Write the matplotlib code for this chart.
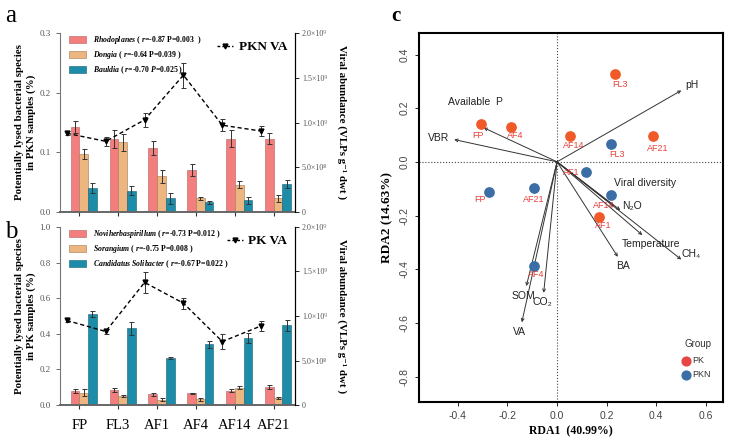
import numpy as np
import matplotlib
matplotlib.use('Agg')
import matplotlib.pyplot as plt
from matplotlib.lines import Line2D

plt.rcParams['font.family'] = ['Liberation Serif', 'DejaVu Serif']
plt.rcParams['mathtext.fontset'] = 'custom'
plt.rcParams['mathtext.rm'] = 'Liberation Serif:bold'
plt.rcParams['mathtext.it'] = 'Liberation Serif:italic:bold'

sites = ['FP', 'FL3', 'AF1', 'AF4', 'AF14', 'AF21']

# panel a (PKN)
rhodoplanes = [0.143, 0.123, 0.107, 0.070, 0.123, 0.123]
rhodoplanes_err = [0.010, 0.015, 0.012, 0.010, 0.014, 0.009]
dongia = [0.097, 0.117, 0.060, 0.023, 0.046, 0.023]
dongia_err = [0.008, 0.014, 0.011, 0.003, 0.006, 0.006]
bauldia = [0.040, 0.036, 0.023, 0.016, 0.020, 0.047]
bauldia_err = [0.008, 0.008, 0.009, 0.002, 0.006, 0.006]
pkn_va = [0.88e9, 0.79e9, 1.03e9, 1.53e9, 0.97e9, 0.905e9]
pkn_va_err = [0.02e9, 0.05e9, 0.08e9, 0.14e9, 0.07e9, 0.06e9]

# panel b (PK)
novi = [0.080, 0.083, 0.060, 0.065, 0.080, 0.100]
novi_err = [0.010, 0.012, 0.010, 0.005, 0.008, 0.010]
sorangium = [0.070, 0.053, 0.030, 0.033, 0.098, 0.040]
sorangium_err = [0.020, 0.006, 0.010, 0.008, 0.008, 0.007]
solibacter = [0.510, 0.430, 0.263, 0.340, 0.377, 0.447]
solibacter_err = [0.018, 0.035, 0.006, 0.018, 0.030, 0.030]
pk_va = [0.95e9, 0.826e9, 1.377e9, 1.144e9, 0.713e9, 0.889e9]
pk_va_err = [0.02e9, 0.03e9, 0.12e9, 0.06e9, 0.08e9, 0.06e9]

# panel c (RDA)
pk_x = [-0.307, 0.234, 0.171, -0.186, 0.053, 0.387]
pk_y = [0.140, 0.328, -0.205, 0.129, 0.098, 0.098]
pkn_x = [-0.276, 0.218, 0.115, -0.092, 0.218, -0.092]
pkn_y = [-0.112, 0.067, -0.037, -0.388, -0.122, -0.096]
env_names = ['pH', 'Available  P', 'VBR', 'Viral diversity', 'N₂O', 'Temperature',
             'CH₄', 'BA', 'SOM', 'CO₂', 'VA']
env_x = [0.501, -0.296, -0.415, 0.23, 0.255, 0.344, 0.501, 0.245, -0.124, -0.054, -0.142]
env_y = [0.266, 0.127, 0.083, -0.165, -0.180, -0.273, -0.364, -0.354, -0.463, -0.488, -0.598]

c_pink = '#F27E7E'
c_orange = '#EDB57F'
c_teal = '#1C8CA8'
c_pk = '#F05A28'
c_pkn = '#3A6EA5'
c_lab = '#E8413C'

fig = plt.figure(figsize=(7.35, 4.44), dpi=100)

x = np.arange(len(sites))
w = 0.223


def bar_panel(ax, s1, e1, s2, e2, s3, e3, va, va_err, labels, va_label, ymax, ylabel):
    ekw = dict(ecolor='#333333', elinewidth=0.7, capsize=1.8, capthick=0.7)
    ax.bar(x - 0.112, s1, w, yerr=e1, color=c_pink, edgecolor='#b06060', linewidth=0.4,
           error_kw=ekw, label=labels[0])
    ax.bar(x + 0.112, s2, w, yerr=e2, color=c_orange, edgecolor='#a07850', linewidth=0.4,
           error_kw=ekw, label=labels[1])
    ax.bar(x + 0.335, s3, w, yerr=e3, color=c_teal, edgecolor='#145f72', linewidth=0.4,
           error_kw=ekw, label=labels[2])
    ax.set_xlim(-0.5, 5.545)
    ax.set_ylim(0, ymax)
    ax.set_yticks(np.linspace(0, ymax, 4 if ymax < 0.5 else 6))
    ax.yaxis.set_major_formatter(matplotlib.ticker.FormatStrFormatter('%.1f'))
    ax.tick_params(axis='y', labelsize=6.5, labelcolor='#555555', length=3, width=0.6, color='#555555')
    ax.tick_params(axis='x', length=3, width=0.8, color='#333333')
    ax.set_xticks(x)
    ax.spines['top'].set_visible(False)
    ax.spines['left'].set_color('#777777')
    ax.spines['bottom'].set_color('#666666')
    ax.spines['bottom'].set_linewidth(1.4)
    ax.set_ylabel(ylabel, fontsize=7.8, fontweight='bold', labelpad=3)
    ax.legend(loc='upper left', bbox_to_anchor=(0.02, 1.02), frameon=False,
              prop=dict(size=5.6, weight='bold'), handlelength=2.2, handleheight=0.9,
              labelspacing=0.4, borderaxespad=0.2)

    ax2 = ax.twinx()
    ax2.errorbar(x - 0.324, va, yerr=va_err, color='black', ls=(0, (3, 2)), lw=1.0,
                 marker='v', ms=3.5, ecolor='#333333', elinewidth=0.7, capsize=1.8,
                 capthick=0.7, label=va_label)
    ax2.set_ylim(0, 2e9)
    ax2.set_yticks([0, 0.5e9, 1e9, 1.5e9, 2e9])
    ax2.set_yticklabels(['0', '5.0×10⁸', '1.0×10⁹', '1.5×10⁹', '2.0×10⁹'])
    ax2.tick_params(axis='y', labelsize=5.8, labelcolor='#555555', length=3, width=0.6, pad=2)
    ax2.spines['top'].set_visible(False)
    ax2.spines['left'].set_visible(False)
    ax2.spines['bottom'].set_visible(False)
    ax2.set_ylabel('Viral abundance (VLPs g⁻¹ dwt )', fontsize=7.8, fontweight='bold',
                   rotation=270, labelpad=14)
    handle = Line2D([], [], color='black', ls=(0, (2, 1.5)), lw=1.0, marker='v', ms=3.5)
    ax2.legend([handle], [va_label], loc='upper right', bbox_to_anchor=(1.0, 1.0),
               frameon=False, prop=dict(size=9.5, weight='bold'), handlelength=1.2,
               handletextpad=0.4, borderaxespad=0.2)
    return ax2


ax_a = fig.add_axes([0.0816, 0.5225, 0.3197, 0.403])
bar_panel(ax_a, rhodoplanes, rhodoplanes_err, dongia, dongia_err, bauldia, bauldia_err,
          pkn_va, pkn_va_err,
          [r'$\mathit{Rhodoplanes}$ ( $\mathit{r}$=-0.87 P=0.003  )',
           r'$\mathit{Dongia}$ ( $\mathit{r}$=-0.64 P=0.039 )',
           r'$\mathit{Bauldia}$ ( $\mathit{r}$=-0.70 $\mathit{P}$=0.025 )'],
          'PKN VA', 0.3, 'Potentially lysed bacterial species\nin PKN samples (%)')
ax_a.set_xticklabels([])

ax_b = fig.add_axes([0.0816, 0.0878, 0.3197, 0.401])
bar_panel(ax_b, novi, novi_err, sorangium, sorangium_err, solibacter, solibacter_err,
          pk_va, pk_va_err,
          [r'$\mathit{Noviherbaspirillum}$ ( $\mathit{r}$=-0.73 P=0.012 )',
           r'$\mathit{Sorangium}$ ( $\mathit{r}$=-0.75 P=0.008 )',
           r'$\mathit{Candidatus\ Solibacter}$ ( $\mathit{r}$=-0.67 P=0.022 )'],
          'PK VA', 1.0, 'Potentially lysed bacterial species\nin PK samples (%)')
ax_b.set_xticklabels(sites, fontsize=10.5)
ax_b.tick_params(axis='x', pad=7)

fig.text(0.007, 0.965, 'a', fontsize=18, va='center')
fig.text(0.007, 0.478, 'b', fontsize=18, va='center')
fig.text(0.532, 0.965, 'c', fontsize=15, fontweight='bold', va='center')

# panel c
sans = ['Liberation Sans', 'DejaVu Sans']
ax_c = fig.add_axes([0.570, 0.0946, 0.4136, 0.831])
ax_c.set_xlim(-0.557, 0.669)
ax_c.set_ylim(-0.895, 0.48)
ax_c.axhline(0, color='#444444', ls=':', lw=0.8)
ax_c.axvline(0, color='#444444', ls=':', lw=0.8)
for i, name in enumerate(env_names):
    ax_c.annotate('', xy=(env_x[i], env_y[i]), xytext=(0, 0),
                  arrowprops=dict(arrowstyle='->', color='#333333', lw=0.7,
                                  shrinkA=0, shrinkB=0, mutation_scale=5))
lab_pos = {'pH': (0.545, 0.285), 'Available  P': (-0.33, 0.224), 'VBR': (-0.478, 0.089),
           'Viral diversity': (0.356, -0.078), 'N₂O': (0.303, -0.165),
           'Temperature': (0.38, -0.306), 'CH₄': (0.539, -0.345), 'BA': (0.265, -0.389),
           'SOM': (-0.135, -0.50), 'CO₂': (-0.06, -0.523), 'VA': (-0.15, -0.634)}
for name in env_names:
    px, py = lab_pos[name]
    ax_c.text(px, py, name, fontsize=7.5, family=sans, color='#222222', ha='center', va='center')

ax_c.scatter(pk_x, pk_y, s=45, color=c_pk, zorder=3)
ax_c.scatter(pkn_x, pkn_y, s=45, color=c_pkn, zorder=3)
pk_lab = [(-0.317, 0.098), (0.254, 0.288), (0.187, -0.238), (-0.168, 0.098), (0.069, 0.062), (0.407, 0.050)]
pkn_lab = [(-0.312, -0.142), (0.242, 0.027), (0.056, -0.039), (-0.085, -0.418), (0.189, -0.164), (-0.094, -0.141)]
for i, s in enumerate(sites):
    ax_c.text(pk_lab[i][0], pk_lab[i][1], s, fontsize=6.5, family=sans, color=c_lab, ha='center', va='center')
    ax_c.text(pkn_lab[i][0], pkn_lab[i][1], s, fontsize=6.5, family=sans, color=c_lab, ha='center', va='center')

ax_c.set_xticks([-0.4, -0.2, 0.0, 0.2, 0.4, 0.6])
ax_c.set_yticks([-0.8, -0.6, -0.4, -0.2, 0.0, 0.2, 0.4])
ax_c.xaxis.set_major_formatter(matplotlib.ticker.FormatStrFormatter('%.1f'))
ax_c.yaxis.set_major_formatter(matplotlib.ticker.FormatStrFormatter('%.1f'))
for t in ax_c.get_xticklabels() + ax_c.get_yticklabels():
    t.set_family(sans)
    t.set_fontsize(7.5)
    t.set_color('#444444')
for t in ax_c.get_yticklabels():
    t.set_rotation(90)
    t.set_va('center')
ax_c.tick_params(length=3, width=0.6)
for sp in ax_c.spines.values():
    sp.set_linewidth(1.5)
ax_c.set_xlabel('RDA1  (40.99%)', fontsize=8.5, fontweight='bold', labelpad=3)
ax_c.set_ylabel('RDA2 (14.63%)', fontsize=9.5, fontweight='bold', labelpad=5)

ax_c.text(0.57, -0.69, 'Group', fontsize=7, family=sans, color='#333333', ha='center')
ax_c.scatter([0.52], [-0.741], s=40, color='#E84545')
ax_c.scatter([0.52], [-0.793], s=40, color=c_pkn)
ax_c.text(0.545, -0.741, 'PK', fontsize=6.5, family=sans, color='#333333', va='center')
ax_c.text(0.545, -0.793, 'PKN', fontsize=6.5, family=sans, color='#333333', va='center')

fig.savefig('out.png', dpi=100)
